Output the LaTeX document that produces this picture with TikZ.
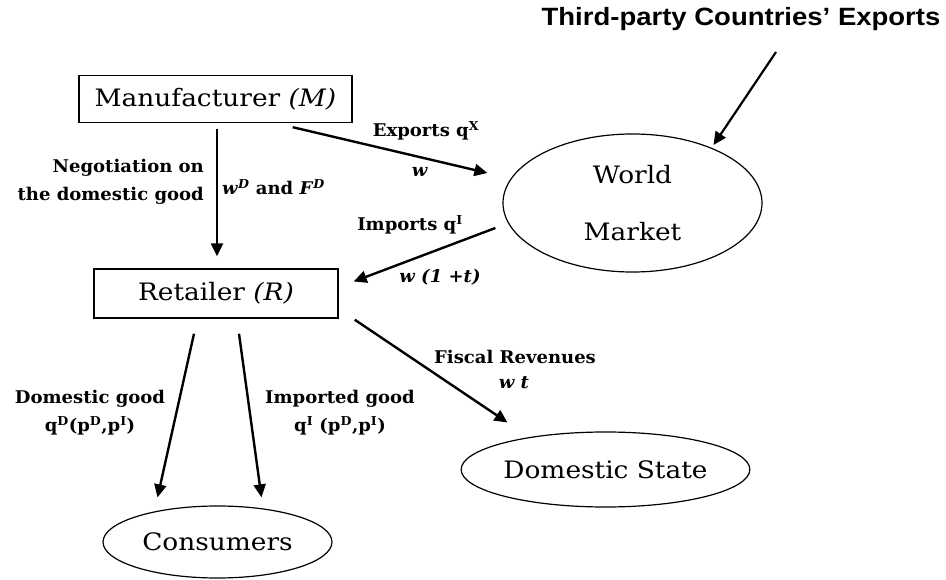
\documentclass[tikz,border=0pt]{standalone}
\usepackage{fontspec}
\setmainfont{DejaVu Serif}[FakeStretch=1.1]
\newfontfamily\lblfont{DejaVu Serif}[FakeStretch=1.03]
\newfontfamily\titlefont{Liberation Sans}[FakeStretch=1.1]
\usetikzlibrary{arrows.meta,shapes.geometric,calc}
\begin{document}
\begin{tikzpicture}[x=1pt,y=-1pt,
  box/.style={draw,line width=1.4pt,inner sep=0pt,font=\fontsize{24}{28}\selectfont},
  oval/.style={draw,ellipse,line width=1.2pt,inner sep=0pt,font=\fontsize{24}{28}\selectfont},
  lbl/.style={font=\lblfont\bfseries\fontsize{17.5}{28}\selectfont,inner sep=0pt},
  flow/.style={line width=2.4pt,-{Triangle[length=13pt,width=12pt]}}]
\useasboundingbox (0,0) rectangle (946,580);
\node[box,minimum width=273pt,minimum height=47pt] (M) at (215.5,99) {Manufacturer \textit{(M)}};
\node[box,minimum width=244pt,minimum height=49pt] (R) at (216,293.5) {Retailer \textit{(R)}};
\node[oval,minimum width=259pt,minimum height=138pt,align=center] (W) at (632.5,203) {World\\[29pt]Market};
\node[oval,minimum width=264pt,minimum height=75pt] (S) at (605.5,469.5) {Domestic State};
\node[oval,minimum width=229pt,minimum height=72pt] (C) at (217.5,542) {Consumers};
\node[font=\titlefont\bfseries\fontsize{25}{28}\selectfont,inner sep=0pt] (T) at (741,19) {Third-party Countries’ Exports};

\coordinate (t1) at (776,52);
\draw[flow,line width=2.2pt] (t1) -- ($(W.center)+(81,-58)$);

\draw[flow] ($(M.south)+(1.5,6)$) -- ($(R.north)+(1,-12)$);
\draw[flow] ($(M.south east)+(-60,4)$) -- ($(W.west)+(-15,-30)$);
\draw[flow] ($(W.west)+(-7,25)$) -- ($(R.east)+(15,-12)$);
\draw[flow] ($(R.south east)+(16,1)$) -- ($(S.center)+(-98,-47)$);
\draw[flow] ($(R.south)+(-22,15)$) -- ($(C.north)+(-60,-8)$);
\draw[flow] ($(R.south)+(23,15)$) -- ($(C.north)+(44,-8)$);

\node[lbl,align=right,anchor=east] (L1) at (204,182) {Negotiation on\\the domestic good};
\node[lbl,anchor=west] (L2) at (222,187) {\textit{w}\textsuperscript{\textit{D}} and \textit{F}\textsuperscript{\textit{D}}};
\node[lbl] (L3) at (426,131) {Exports q\textsuperscript{X}};
\node[lbl] (L4) at (420,172) {\textit{w}};
\node[lbl] (L5) at (410,225) {Imports q\textsuperscript{I}};
\node[lbl] (L6) at (440,277) {\textit{w (1 +t)}};
\node[lbl] (L7) at (515,357) {Fiscal Revenues};
\node[lbl] (L8) at (514,383) {\textit{w t}};
\node[lbl,align=center] (L9) at (90,413) {Domestic good\\q\textsuperscript{D}(p\textsuperscript{D},p\textsuperscript{I})};
\node[lbl,align=center] (L10) at (340,413) {Imported good\\q\textsuperscript{I} (p\textsuperscript{D},p\textsuperscript{I})};
\end{tikzpicture}
\end{document}
